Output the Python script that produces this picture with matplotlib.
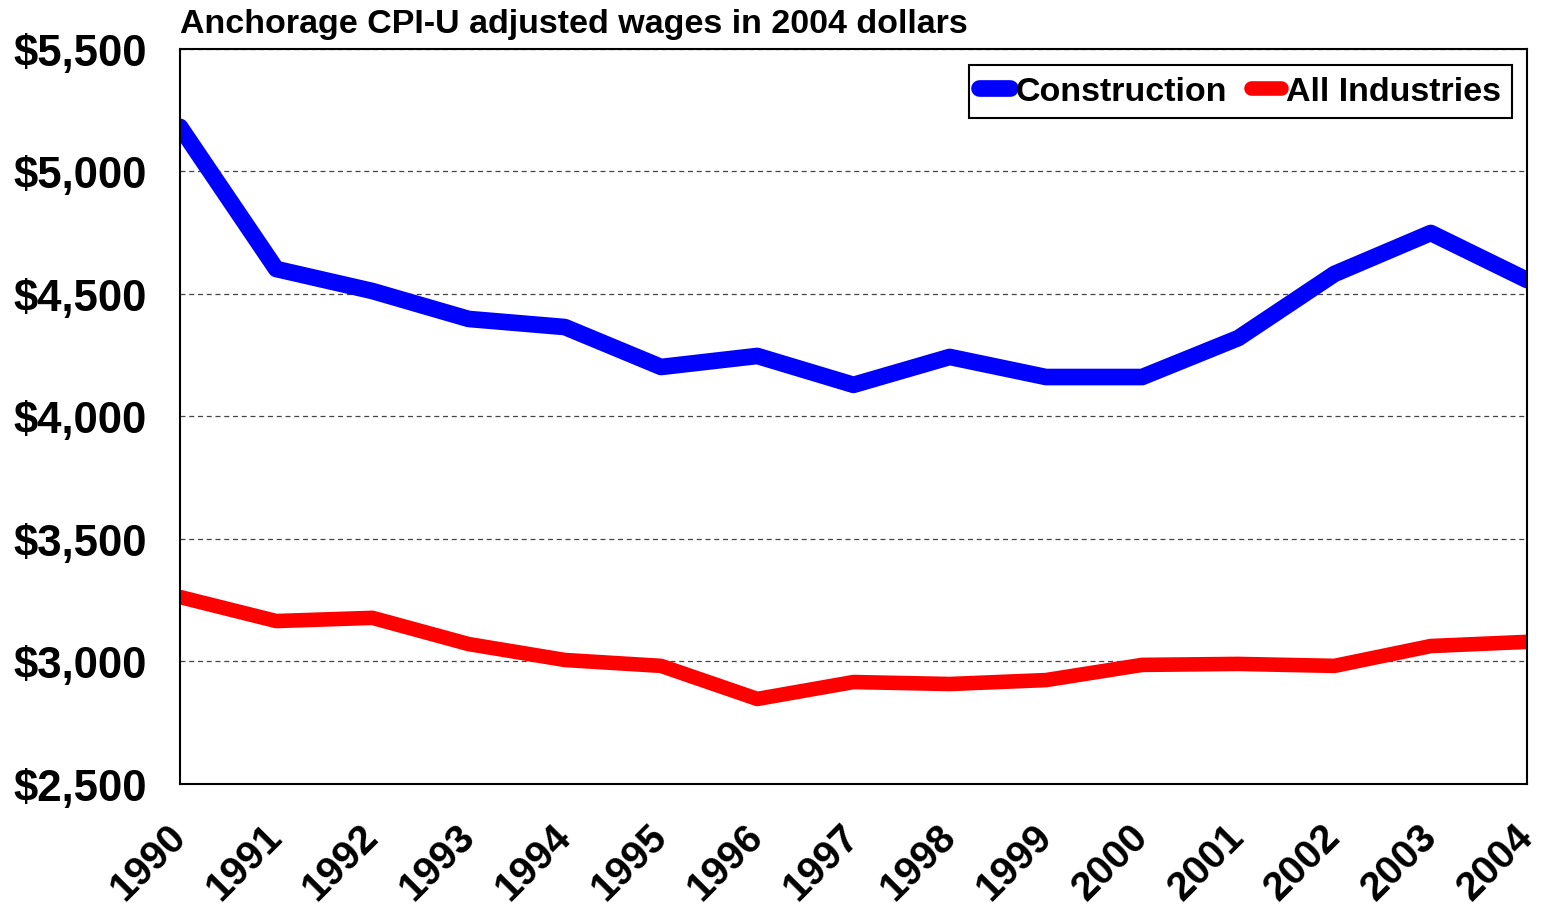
import matplotlib.pyplot as plt
from matplotlib.ticker import FuncFormatter

plt.rcParams['font.family'] = ['Liberation Sans', 'DejaVu Sans']
plt.rcParams['font.weight'] = 'bold'

years = list(range(1990, 2005))
construction = [5182, 4602, 4512, 4398, 4365, 4202, 4247, 4129, 4243, 4161,
                4161, 4320, 4582, 4749, 4557]
all_industries = [3263, 3165, 3178, 3071, 3006, 2982, 2847, 2916, 2908, 2924,
                  2986, 2990, 2982, 3063, 3080]

fig = plt.figure(figsize=(15.41, 9.12), dpi=100)
ax = fig.add_axes([0.1168, 0.1393, 0.8741, 0.8059])

ax.plot(years, construction, color='#0000ff', lw=12, solid_capstyle='round',
        solid_joinstyle='round', label='Construction')
ax.plot(years, all_industries, color='#ff0000', lw=10.5, solid_capstyle='round',
        solid_joinstyle='round', label='All Industries')

ax.set_xlim(1990, 2004)
ax.set_ylim(2500, 5500)
ax.set_yticks(range(2500, 5501, 500))
ax.set_xticks(years)
ax.yaxis.set_major_formatter(FuncFormatter(lambda v, p: f"${v:,.0f}"))
ax.grid(axis='y', color='#444444', linestyle=(0, (4, 3)), lw=0.9)
ax.tick_params(axis='y', length=0, labelsize=31.5, pad=24)
ax.tick_params(axis='x', length=0, labelsize=29, pad=33)
for lbl in ax.get_xticklabels():
    lbl.set_rotation(45)
    lbl.set_ha('right')
    lbl.set_va('center')
    lbl.set_rotation_mode('anchor')
for s in ax.spines.values():
    s.set_linewidth(1.5)
    s.set_color('black')

leg = ax.legend(loc='upper right', ncol=2, fontsize=24.5, handlelength=0.9,
                handletextpad=0.15, columnspacing=0.7, borderpad=0.32,
                borderaxespad=0, fancybox=False, framealpha=1,
                edgecolor='black', bbox_to_anchor=(0.989, 0.978))
leg.get_frame().set_linewidth(1.5)

fig.text(0.1168, 0.973, "Anchorage CPI-U adjusted wages in 2004 dollars",
         fontsize=24.5, fontweight='bold', ha='left', va='center')

fig.savefig('out.png', dpi=100)
